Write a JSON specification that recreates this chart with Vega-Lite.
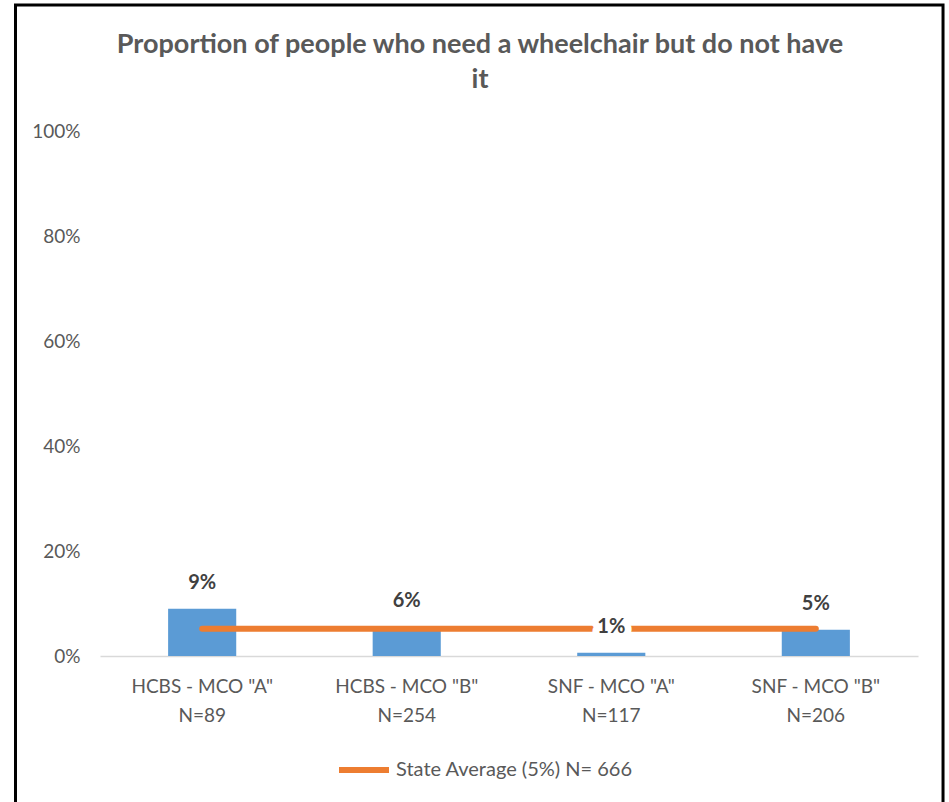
{
  "$schema": "https://vega.github.io/schema/vega-lite/v6.json",
  "width": 818,
  "height": 525,
  "autosize": "none",
  "padding": {"left": 100, "top": 131, "right": 31, "bottom": 146},
  "background": "white",
  "config": {"view": {"stroke": null}, "font": "Lato"},
  "title": {
    "text": ["Proportion of people who need a wheelchair but do not have", "it"],
    "fontSize": 27,
    "fontWeight": "bold",
    "color": "#595959",
    "font": "Lato",
    "anchor": "middle",
    "dx": -29,
    "lineHeight": 35,
    "offset": -90
  },
  "data": {
    "values": [
      {"group": "HCBS - MCO \"A\"|N=89", "pct": 0.09, "avg": 0.052},
      {"group": "HCBS - MCO \"B\"|N=254", "pct": 0.056, "avg": 0.052},
      {"group": "SNF - MCO \"A\"|N=117", "pct": 0.006, "avg": 0.052},
      {"group": "SNF - MCO \"B\"|N=206", "pct": 0.05, "avg": 0.052}
    ]
  },
  "resolve": {"scale": {"x": "independent"}, "axis": {"x": "independent"}},
  "layer": [
    {
      "data": {"values": [{}]},
      "mark": {"type": "rect", "fill": null, "stroke": "black", "strokeWidth": 3},
      "encoding": {
        "x": {"datum": -0.1033, "type": "quantitative", "scale": {"domain": [0, 1], "nice": false, "zero": false}, "axis": null},
        "x2": {"datum": 1.0306},
        "y": {"datum": 1.24, "type": "quantitative", "scale": {"domain": [0, 1], "nice": false}},
        "y2": {"datum": -0.3}
      }
    },
    {
      "layer": [
        {
          "mark": {"type": "bar", "color": "#5B9BD5"},
          "encoding": {
            "x": {
              "field": "group", "type": "nominal", "sort": null,
              "scale": {"paddingInner": 0.667, "paddingOuter": 0.333},
              "axis": {
                "title": null, "labelExpr": "split(datum.label, '|')", "labelAngle": 0,
                "labelFontSize": 19, "labelColor": "#595959", "labelPadding": 21,
                "labelLineHeight": 29, "ticks": false, "domainColor": "#D9D9D9", "domainWidth": 1.5
              }
            },
            "y": {
              "field": "pct", "type": "quantitative",
              "scale": {"domain": [0, 1], "nice": false},
              "axis": {
                "title": null, "format": ".0%", "values": [0, 0.2, 0.4, 0.6, 0.8, 1],
                "labelFontSize": 19, "labelColor": "#595959", "labelPadding": 20,
                "ticks": false, "domain": false, "gridColor": "#D9D9D9", "gridWidth": 1.5
              }
            }
          }
        },
        {
          "mark": {"type": "line", "strokeWidth": 6, "strokeCap": "round"},
          "encoding": {
            "x": {"field": "group", "type": "nominal", "sort": null},
            "y": {"field": "avg", "type": "quantitative"},
            "color": {
              "datum": "State Average (5%) N= 666",
              "scale": {"range": ["#ED7D31"]},
              "legend": {
                "orient": "none", "legendX": 236, "legendY": 611, "title": null,
                "symbolType": "stroke", "symbolStrokeWidth": 6, "symbolSize": 2500,
                "labelFontSize": 20, "labelColor": "#595959", "labelOffset": 4,
                "labelLimit": 500, "padding": 0
              }
            }
          }
        },
        {
          "mark": {"type": "text", "fill": "white", "stroke": "white", "strokeWidth": 14, "strokeJoin": "round", "fontSize": 20, "fontWeight": "bold", "dy": -26},
          "encoding": {
            "x": {"field": "group", "type": "nominal", "sort": null},
            "y": {"field": "pct", "type": "quantitative"},
            "text": {"field": "pct", "format": ".0%"}
          }
        },
        {
          "mark": {"type": "text", "fill": "#404040", "fontSize": 20, "fontWeight": "bold", "dy": -26},
          "encoding": {
            "x": {"field": "group", "type": "nominal", "sort": null},
            "y": {"field": "pct", "type": "quantitative"},
            "text": {"field": "pct", "format": ".0%"}
          }
        }
      ]
    }
  ]
}
